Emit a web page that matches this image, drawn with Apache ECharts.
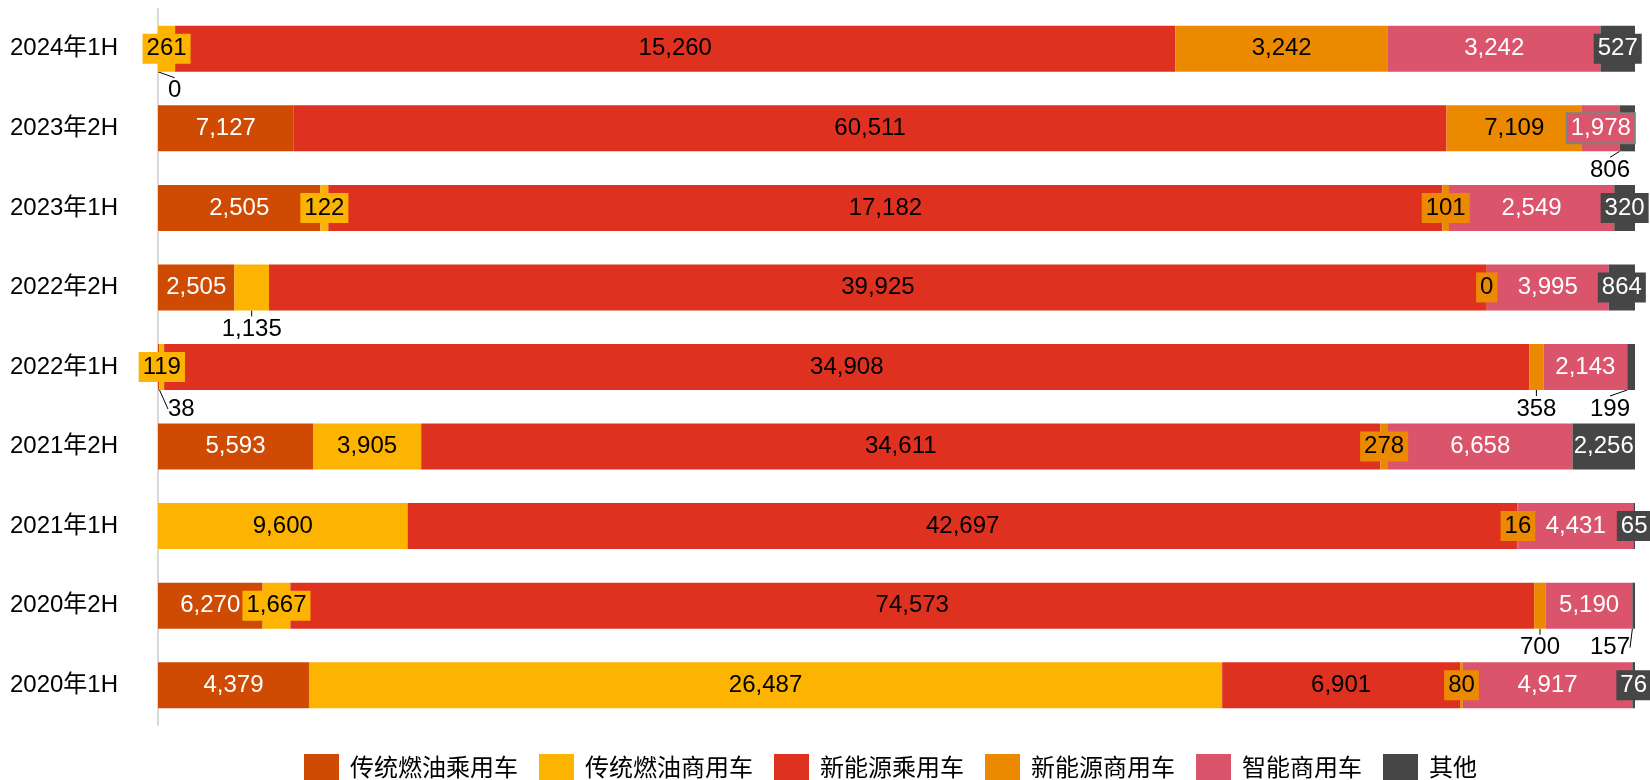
<!DOCTYPE html>
<html>
<head>
<meta charset="utf-8">
<title>车辆类型构成（半年度）</title>
<script src="https://cdn.jsdelivr.net/npm/echarts@6/dist/echarts.min.js"></script>
<style>
  html, body { margin: 0; padding: 0; background: #ffffff; }
  #chart { width: 1650px; height: 780px; }
</style>
</head>
<body>
<div id="chart"></div>
<script>
// Half-year periods, oldest first (the first one sits at the bottom of the axis)
const periods = ['2020年1H', '2020年2H', '2021年1H', '2021年2H', '2022年1H', '2022年2H', '2023年1H', '2023年2H', '2024年1H'];

const seriesNames = ['传统燃油乘用车', '传统燃油商用车', '新能源乘用车', '新能源商用车', '智能商用车', '其他'];

// Values per vehicle type, aligned with `periods`
const fuelPassenger    = [4379, 6270, 0, 5593, 38, 2505, 2505, 7127, 0];
const fuelCommercial   = [26487, 1667, 9600, 3905, 119, 1135, 122, 0, 261];
const nevPassenger     = [6901, 74573, 42697, 34611, 34908, 39925, 17182, 60511, 15260];
const nevCommercial    = [80, 700, 16, 278, 358, 0, 101, 7109, 3242];
const smartCommercial  = [4917, 5190, 4431, 6658, 2143, 3995, 2549, 1978, 3242];
const others           = [76, 157, 65, 2256, 199, 864, 320, 806, 527];

const seriesValues = [fuelPassenger, fuelCommercial, nevPassenger, nevCommercial, smartCommercial, others];

const colors = ['#cf4a02', '#fdb400', '#df3120', '#eb8a00', '#da546c', '#464646'];
const labelColors = ['#ffffff', '#000000', '#000000', '#000000', '#ffffff', '#ffffff'];

// Label treatment for segments too narrow to hold their number
const boxed = {
  '传统燃油商用车': ['2024年1H', '2023年1H', '2022年1H', '2020年2H'],
  '新能源商用车': ['2023年1H', '2022年2H', '2021年2H', '2021年1H', '2020年1H'],
  '其他': ['2024年1H', '2023年1H', '2022年2H', '2021年1H', '2020年1H']
};
const outlined = { '智能商用车': ['2023年2H'] };
const below = {
  '传统燃油乘用车': ['2024年1H', '2022年1H'],
  '传统燃油商用车': ['2022年2H'],
  '新能源商用车': ['2022年1H', '2020年2H'],
  '其他': ['2023年2H', '2022年1H', '2020年2H']
};
const hidden = { '传统燃油乘用车': ['2021年1H'], '传统燃油商用车': ['2023年2H'] };

const inList = (map, name, period) => (map[name] || []).indexOf(period) >= 0;

const FONT = '"Liberation Sans", Arial, "Noto Sans CJK SC", sans-serif';
const GRID_LEFT = 158, GRID_RIGHT = 15;
const CHART_W = 1650;

const totals = periods.map((_, i) => seriesValues.reduce((s, arr) => s + arr[i], 0));
const fmt = v => v.toLocaleString('en-US');

const series = seriesNames.map((name, si) => ({
  name: name,
  type: 'bar',
  stack: 'share',
  barWidth: 46,
  itemStyle: { color: colors[si] },
  label: {
    show: true,
    position: 'inside',
    color: labelColors[si],
    fontFamily: FONT,
    fontSize: 24,
    lineHeight: 26,
    formatter: p => fmt(p.data.raw)
  },
  labelLine: { show: false, lineStyle: { color: '#000000', width: 1 } },
  labelLayout: function (p) {
    const period = periods[p.dataIndex];
    if (!inList(below, name, period)) return {};
    const r = p.rect, lr = p.labelRect;
    let x = r.x + r.width / 2 - lr.width / 2;
    x = Math.max(x, GRID_LEFT + 10);
    x = Math.min(x, CHART_W - GRID_RIGHT - 5 - lr.width);
    return { x: x, y: r.y + r.height + 6, align: 'left', verticalAlign: 'top' };
  },
  emphasis: { disabled: true },
  data: periods.map((period, i) => {
    const v = seriesValues[si][i];
    const item = { value: v / totals[i], raw: v };
    if (inList(hidden, name, period)) {
      item.label = { show: false };
    } else if (inList(below, name, period)) {
      item.label = { position: 'bottom', color: '#000000' };
      item.labelLine = { show: true, lineStyle: { color: '#000000', width: 1 } };
    } else if (inList(boxed, name, period)) {
      item.label = { backgroundColor: colors[si], padding: [2, 4] };
    } else if (inList(outlined, name, period)) {
      item.label = { backgroundColor: colors[si], padding: [1, 3], borderColor: '#808080', borderWidth: 2 };
    }
    return item;
  })
}));

const chart = echarts.init(document.getElementById('chart'), null, { renderer: 'canvas' });
chart.setOption({
  animation: false,
  textStyle: { fontFamily: FONT },
  grid: { left: GRID_LEFT, right: GRID_RIGHT, top: 9, height: 716, containLabel: false },
  xAxis: { type: 'value', min: 0, max: 1, show: false },
  yAxis: {
    type: 'category',
    data: periods,
    axisLine: { show: true, lineStyle: { color: '#d9d9d9', width: 2 } },
    axisTick: { show: false },
    axisLabel: { color: '#000000', fontSize: 24, fontFamily: FONT, margin: 40 }
  },
  legend: {
    data: seriesNames,
    left: 304,
    top: 754,
    padding: 0,
    icon: 'rect',
    itemWidth: 35,
    itemHeight: 30,
    itemGap: 21,
    selectedMode: false,
    textStyle: { color: '#000000', fontSize: 24, fontFamily: FONT, lineHeight: 30, padding: [0, 0, 0, 6] }
  },
  series: series
});
</script>
</body>
</html>
